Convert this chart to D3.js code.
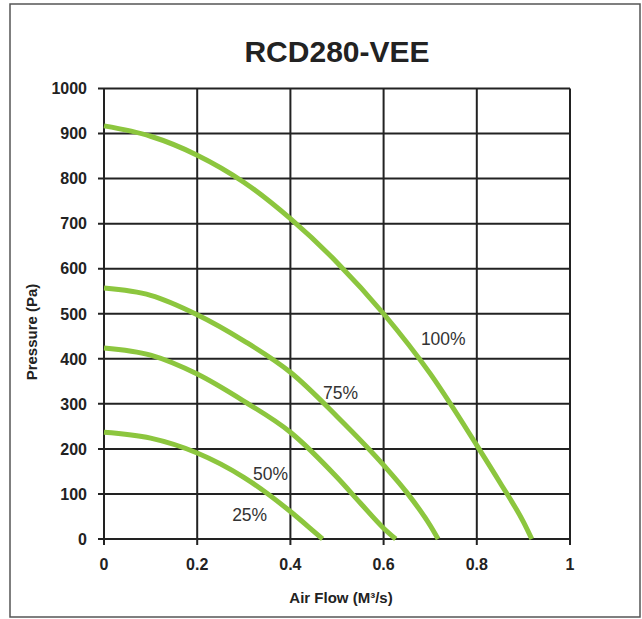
<!DOCTYPE html>
<html><head><meta charset="utf-8">
<script src="https://cdn.jsdelivr.net/npm/d3@7"></script>
<style>body{margin:0;background:#fff;}svg{display:block;}</style>
</head><body>
<script>
const title = "RCD280-VEE";
const xLabel = "Air Flow (M³/s)";
const yLabel = "Pressure (Pa)";
const xTicks = [0, 0.2, 0.4, 0.6, 0.8, 1];
const yTicks = [0, 100, 200, 300, 400, 500, 600, 700, 800, 900, 1000];
const seriesNames = ["100%", "75%", "50%", "25%"];
const flow100 = [0, 0.1, 0.2, 0.3, 0.4, 0.5, 0.6, 0.7, 0.8, 0.85, 0.9, 0.918];
const pres100 = [917, 894, 852, 792, 711, 614, 500, 367, 208, 125, 38, 0];
const flow75 = [0, 0.1, 0.2, 0.3, 0.4, 0.5, 0.6, 0.65, 0.7, 0.717];
const pres75 = [557, 541, 498, 440, 370, 272, 164, 103, 30, 0];
const flow50 = [0, 0.1, 0.2, 0.3, 0.4, 0.5, 0.55, 0.6, 0.626];
const pres50 = [424, 408, 366, 306, 237, 137, 80, 24, 0];
const flow25 = [0, 0.1, 0.2, 0.3, 0.4, 0.45, 0.469];
const pres25 = [237, 224, 191, 137, 61, 17, 0];
const labelPos = [[0.68, 430], [0.47, 310], [0.32, 131], [0.275, 40]];

const W = 642, H = 619;
const svg = d3.select("body").append("svg").attr("width", W).attr("height", H);
svg.append("rect").attr("x", 10).attr("y", 4).attr("width", 630).attr("height", 613)
  .attr("fill", "#fff").attr("stroke", "#555").attr("stroke-width", 1.5);

const x = d3.scaleLinear().domain([0, 1]).range([104, 570]);
const y = d3.scaleLinear().domain([0, 1000]).range([539, 88.5]);
const grid = "#222";
const font = "Liberation Sans, Arial, sans-serif";

// gridlines
svg.append("g").selectAll("line").data(xTicks).join("line")
  .attr("x1", d => x(d)).attr("x2", d => x(d)).attr("y1", y(0) + 6).attr("y2", y(1000))
  .attr("stroke", grid).attr("stroke-width", 2);
svg.append("g").selectAll("line").data(yTicks).join("line")
  .attr("x1", x(0) - 6).attr("x2", x(1)).attr("y1", d => y(d)).attr("y2", d => y(d))
  .attr("stroke", grid).attr("stroke-width", 2);

// tick labels
svg.append("g").selectAll("text").data(yTicks).join("text")
  .attr("x", 87).attr("y", d => y(d)).attr("dy", "0.36em").attr("text-anchor", "end")
  .attr("font-family", font).attr("font-weight", "bold")
  .attr("font-size", 16).attr("fill", "#222").text(d => d);
svg.append("g").selectAll("text").data(xTicks).join("text")
  .attr("x", d => x(d)).attr("y", 570).attr("text-anchor", "middle")
  .attr("font-family", font).attr("font-weight", "bold")
  .attr("font-size", 16).attr("fill", "#222").text(d => d);

// curves
const series = [[flow100, pres100], [flow75, pres75], [flow50, pres50], [flow25, pres25]];
const line = d3.line().x(d => x(d[0])).y(d => y(d[1])).curve(d3.curveMonotoneX);
svg.append("g").selectAll("path").data(series).join("path")
  .attr("d", s => line(s[0].map((f, i) => [f, s[1][i]])))
  .attr("fill", "none").attr("stroke", "#8cc63e").attr("stroke-width", 5);

// curve labels
svg.append("g").selectAll("text").data(seriesNames).join("text")
  .attr("x", (d, i) => x(labelPos[i][0])).attr("y", (d, i) => y(labelPos[i][1]))
  .attr("font-family", font)
  .attr("font-size", 17.5).attr("fill", "#333").text(d => d);

// titles
svg.append("text").attr("x", 337).attr("y", 62).attr("text-anchor", "middle")
  .attr("font-family", font).attr("font-weight", "bold")
  .attr("font-size", 30).attr("fill", "#222").text(title);
svg.append("text").attr("x", 341).attr("y", 603).attr("text-anchor", "middle")
  .attr("font-family", font).attr("font-weight", "bold")
  .attr("font-size", 15).attr("fill", "#222").text(xLabel);
svg.append("text").attr("transform", "translate(37,332) rotate(-90)").attr("text-anchor", "middle")
  .attr("font-family", font).attr("font-weight", "bold")
  .attr("font-size", 15).attr("fill", "#222").text(yLabel);
</script>
</body></html>
